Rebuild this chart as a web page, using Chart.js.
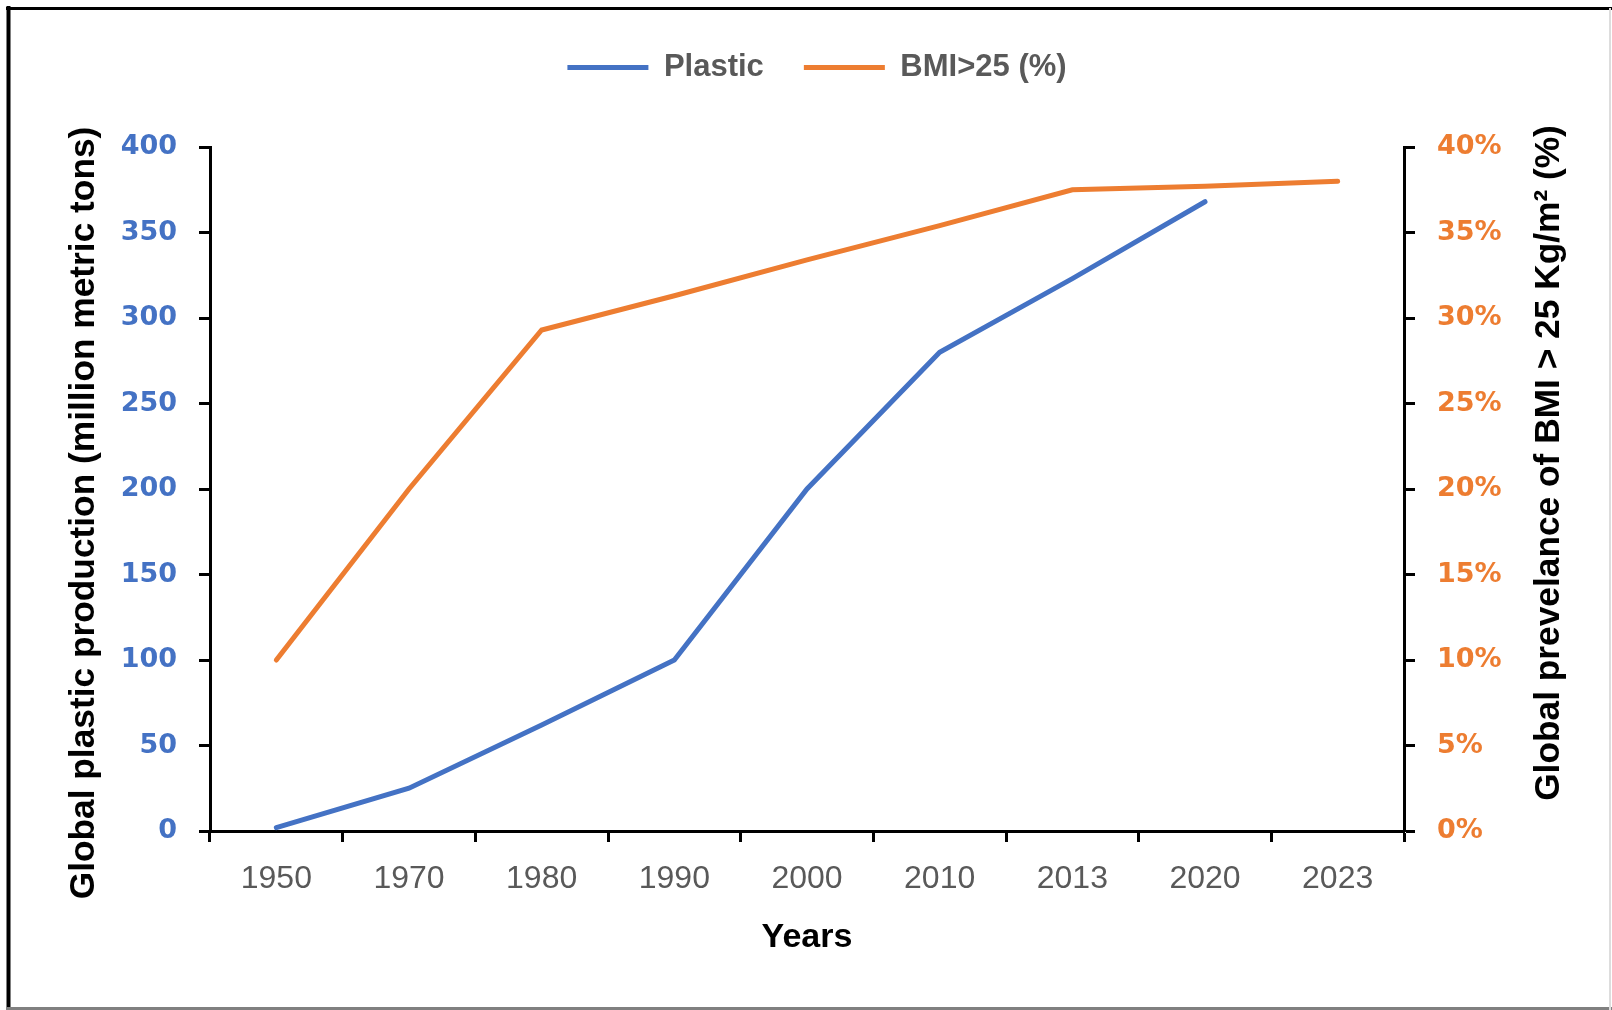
<!DOCTYPE html>
<html>
<head>
<meta charset="utf-8">
<title>Plastic vs BMI</title>
<script src="https://cdn.jsdelivr.net/npm/chart.js@4.4.1/dist/chart.umd.min.js"></script>
<style>
    html, body { margin: 0; padding: 0; background: #ffffff; }
    #grafico { display: block; }
</style>
</head>
<body>
<canvas id="grafico" width="1612" height="1010"></canvas>
<script>
const anios = ["1950", "1970", "1980", "1990", "2000", "2010", "2013", "2020", "2023"];
const plastico = [2, 25, 62, 100, 200, 280, 323, 368, null];
const imc = [10, 20, 29.3, 31.3, 33.4, 35.4, 37.5, 37.7, 38];
const ticksIzq = [0, 50, 100, 150, 200, 250, 300, 350, 400];
const ticksDer = [0, 5, 10, 15, 20, 25, 30, 35, 40];

const AZUL = "#4472C4";
const NARANJA = "#ED7D31";
const GRIS = "#595959";

document.addEventListener("DOMContentLoaded", function() {
    const ctx = document.getElementById("grafico").getContext("2d");

    // titulos verticales y marco de la imagen
    const extras = {
        id: "extras",
        afterDraw(chart) {
            const c = chart.ctx;
            c.save();
            c.fillStyle = "#000";
            c.font = "bold 35.3px 'Liberation Sans', Arial, sans-serif";
            c.textAlign = "center";
            c.textBaseline = "middle";

            c.save();
            c.translate(84, 513);
            c.rotate(-Math.PI / 2);
            c.fillText("Global plastic production (million metric tons)", 0, 0);
            c.restore();

            c.save();
            c.translate(1549, 463);
            c.rotate(-Math.PI / 2);
            c.fillText("Global prevelance of BMI > 25 Kg/m\u00B2 (%)", 0, 0);
            c.restore();

            c.strokeStyle = "#000";
            c.lineWidth = 4;
            c.beginPath();
            c.moveTo(8.5, 6);
            c.lineTo(8.5, 1010);
            c.stroke();
            c.lineWidth = 3;
            c.beginPath();
            c.moveTo(6, 8.5);
            c.lineTo(1612, 8.5);
            c.stroke();
            c.strokeStyle = "#808080";
            c.beginPath();
            c.moveTo(6, 1008.5);
            c.lineTo(1612, 1008.5);
            c.stroke();
            c.strokeStyle = "#dddddd";
            c.lineWidth = 2;
            c.beginPath();
            c.moveTo(1610, 8);
            c.lineTo(1610, 1010);
            c.stroke();
            c.restore();
        }
    };

    new Chart(ctx, {
        type: "line",
        data: {
            labels: anios,
            datasets: [{
                label: "Plastic",
                data: plastico,
                yAxisID: "y",
                borderColor: AZUL,
                backgroundColor: AZUL,
                borderWidth: 5,
                pointRadius: 0,
                pointStyle: "line",
                borderCapStyle: "round",
                tension: 0
            }, {
                label: "BMI>25 (%)",
                data: imc,
                yAxisID: "y1",
                borderColor: NARANJA,
                backgroundColor: NARANJA,
                borderWidth: 5,
                pointRadius: 0,
                pointStyle: "line",
                borderCapStyle: "round",
                tension: 0
            }]
        },
        options: {
            responsive: false,
            animation: false,
            devicePixelRatio: 1,
            layout: { padding: { top: 12, left: 22, right: 0, bottom: 0 } },
            plugins: {
                legend: {
                    position: "top",
                    labels: {
                        usePointStyle: true,
                        pointStyleWidth: 81,
                        padding: 40,
                        color: GRIS,
                        font: { family: "'Liberation Sans', Arial, sans-serif", size: 31, weight: "bold" }
                    }
                },
                subtitle: {
                    display: true,
                    text: " ",
                    weight: 500,
                    font: { size: 10 },
                    padding: { top: 0, bottom: 42 }
                },
                tooltip: { enabled: false }
            },
            scales: {
                x: {
                    type: "category",
                    offset: true,
                    grid: { offset: true, drawOnChartArea: false, tickLength: 11, tickWidth: 3, color: "#000" },
                    border: { color: "#000", width: 3 },
                    ticks: {
                        color: GRIS,
                        padding: 18,
                        maxRotation: 0,
                        font: { family: "'Liberation Sans', Arial, sans-serif", size: 32 }
                    },
                    title: {
                        display: true,
                        text: "Years",
                        color: "#000",
                        padding: { top: 0, bottom: 52 },
                        font: { family: "'Liberation Sans', Arial, sans-serif", size: 34, weight: "bold" }
                    },
                    afterFit(scale) { scale.height = 179; }
                },
                y: {
                    position: "left",
                    min: 0,
                    max: 400,
                    afterBuildTicks(scale) { scale.ticks = ticksIzq.map(v => ({ value: v })); },
                    grid: { drawOnChartArea: false, tickLength: 11, tickWidth: 3, color: "#000" },
                    border: { color: "#000", width: 3 },
                    ticks: {
                        color: AZUL,
                        padding: 22,
                        font: { family: "'DejaVu Sans', Verdana, sans-serif", size: 27, weight: "bold" }
                    },
                    afterFit(scale) { scale.width = 188; }
                },
                y1: {
                    position: "right",
                    min: 0,
                    max: 40,
                    afterBuildTicks(scale) { scale.ticks = ticksDer.map(v => ({ value: v })); },
                    grid: { drawOnChartArea: false, tickLength: 11, tickWidth: 3, color: "#000" },
                    border: { color: "#000", width: 3 },
                    ticks: {
                        color: NARANJA,
                        padding: 22,
                        callback: v => v + "%",
                        font: { family: "'DejaVu Sans', Verdana, sans-serif", size: 27, weight: "bold" }
                    },
                    afterFit(scale) { scale.width = 208; }
                }
            }
        },
        plugins: [extras]
    });
});
</script>
</body>
</html>
